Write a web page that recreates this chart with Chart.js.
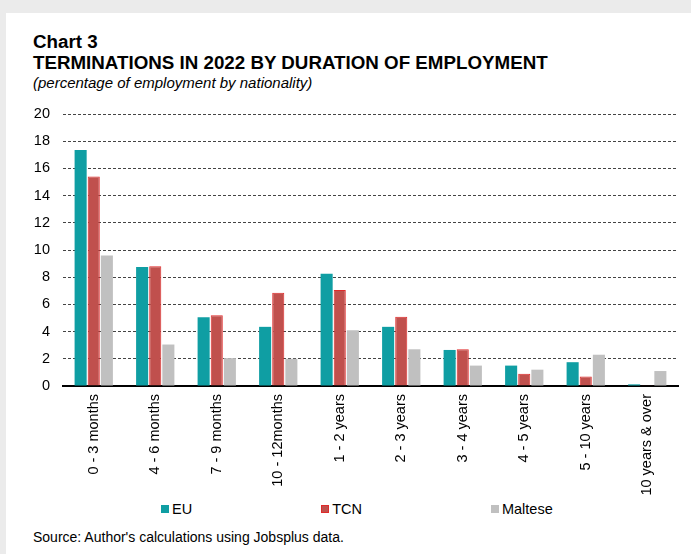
<!DOCTYPE html>
<html>
<head>
<meta charset="utf-8">
<script src="https://cdn.jsdelivr.net/npm/chart.js@4.4.0/dist/chart.umd.min.js"></script>
<style>
  body { margin: 0; background: #ebebeb; font-family: "Liberation Sans", Arial, sans-serif; color: #000; }
  #panel { position: absolute; left: 6px; top: 13px; width: 685px; height: 541px; background: #fff; }
  .txt { position: absolute; left: 33px; white-space: nowrap; }
  #chart-num { top: 33px; font-size: 18.75px; font-weight: bold; line-height: 1; }
  #chart-title { top: 54px; font-size: 18.75px; font-weight: bold; line-height: 1; }
  #chart-sub { top: 75px; font-size: 15px; font-style: italic; line-height: 1; }
  #source { top: 530px; font-size: 14px; line-height: 1; }
  #wrap { position: absolute; left: 0; top: 100px; width: 691px; height: 400px; }
  #legend { position: absolute; left: 161px; top: 502px; display: flex; gap: 129px; font-size: 14.5px; line-height: 1; }
  #legend .item { display: flex; align-items: center; }
  #legend .box { width: 8px; height: 8px; margin-right: 3px; box-sizing: border-box; }
</style>
</head>
<body>
<div id="panel"></div>
<div class="txt" id="chart-num">Chart 3</div>
<div class="txt" id="chart-title">TERMINATIONS IN 2022 BY DURATION OF EMPLOYMENT</div>
<div class="txt" id="chart-sub">(percentage of employment by nationality)</div>
<div id="wrap"><canvas id="myChart"></canvas></div>
<div id="legend"></div>
<div class="txt" id="source">Source: Author's calculations using Jobsplus data.</div>
<script>
const categories = ['0 - 3 months', '4 - 6 months', '7 - 9 months', '10 - 12months', '1 - 2 years',
  '2 - 3 years', '3 - 4 years', '4 - 5 years', '5 - 10 years', '10 years & over']
const euValues = [17.35, 8.75, 5.05, 4.35, 8.25, 4.35, 2.65, 1.5, 1.75, 0.12]
const tcnValues = [15.4, 8.8, 5.2, 6.85, 7.05, 5.1, 2.7, 0.9, 0.7, 0.06]
const malteseValues = [9.6, 3.05, 2.05, 2.0, 4.1, 2.7, 1.5, 1.2, 2.3, 1.1]
const yTicks = [0, 2, 4, 6, 8, 10, 12, 14, 16, 18, 20]

const font = '"Liberation Sans", Arial, sans-serif'
const ctx = document.getElementById('myChart').getContext('2d')

const chart = new Chart(ctx, {
  type: 'bar',
  data: {
    labels: categories,
    datasets: [
      { label: 'EU', data: euValues, backgroundColor: '#0f9ea3', borderWidth: 0 },
      { label: 'TCN', data: tcnValues, backgroundColor: '#c0504d', borderColor: '#e02a2a', borderWidth: 1 },
      { label: 'Maltese', data: malteseValues, backgroundColor: '#c0c0c0', borderWidth: 0 }
    ]
  },
  options: {
    responsive: true,
    maintainAspectRatio: false,
    animation: false,
    layout: { padding: { left: 0, right: 13, top: 14, bottom: 0 } },
    datasets: { bar: { categoryPercentage: 0.64, barPercentage: 0.92 } },
    plugins: { legend: { display: false }, tooltip: { enabled: false } },
    scales: {
      x: {
        grid: { display: false, drawTicks: false },
        border: { display: true, color: '#000', width: 2 },
        ticks: {
          color: '#000', font: { family: font, size: 14.5 },
          minRotation: 90, maxRotation: 90, autoSkip: false, padding: 8
        },
        afterFit: (scale) => { scale.height = 114 }
      },
      y: {
        min: 0, max: 20,
        afterBuildTicks: (scale) => { scale.ticks = yTicks.map(v => ({ value: v })) },
        grid: { color: '#444', lineWidth: 1, drawTicks: false },
        border: { display: false, dash: [3, 2] },
        ticks: { color: '#000', font: { family: font, size: 14.5 }, padding: 13 },
        afterFit: (scale) => {
          scale.width = 63
          scale.paddingTop = 0
          scale.paddingBottom = 0
        }
      }
    }
  }
})

// legend built from the chart's datasets
const legendEl = document.getElementById('legend')
chart.data.datasets.forEach(ds => {
  const item = document.createElement('div')
  item.className = 'item'
  const box = document.createElement('span')
  box.className = 'box'
  box.style.background = ds.backgroundColor
  if (ds.borderWidth) box.style.border = `1px solid ${ds.borderColor}`
  const label = document.createElement('span')
  label.textContent = ds.label
  item.appendChild(box)
  item.appendChild(label)
  legendEl.appendChild(item)
})
</script>
</body>
</html>
